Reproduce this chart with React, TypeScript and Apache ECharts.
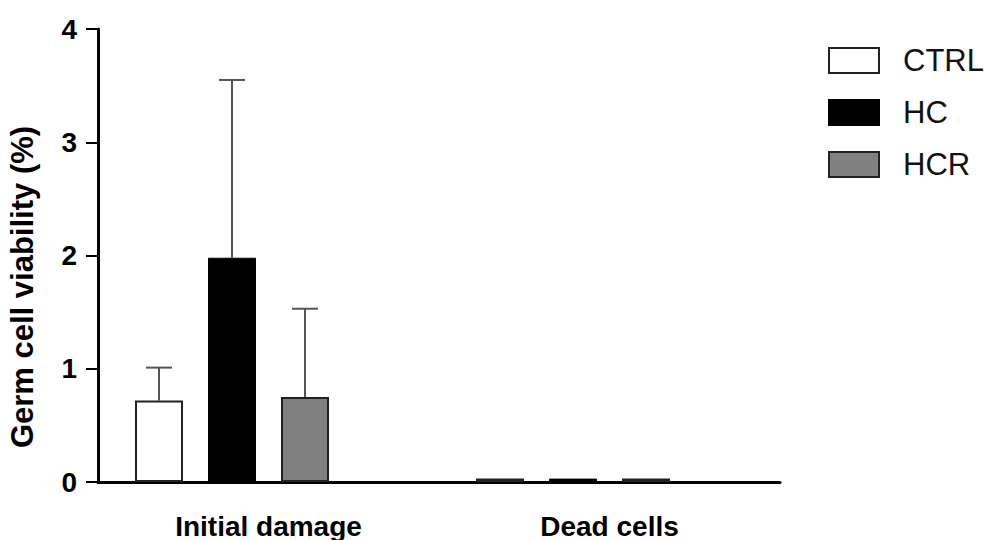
import React, { useEffect, useRef } from "react";
import * as echarts from "echarts";

const categories = ["Initial damage", "Dead cells"];
const seriesNames = ["CTRL", "HC", "HCR"];
const ctrlValues = [0.72, 0.03];
const hcValues = [1.98, 0.03];
const hcrValues = [0.75, 0.03];
const ctrlUpper = [1.01, null];
const hcUpper = [3.55, null];
const hcrUpper = [1.53, null];
const yTicks = [0, 1, 2, 3, 4];

const FONT = "'Liberation Sans', Arial, Helvetica, sans-serif";
const BAR_W = 48;
const BAR_GAP = 25;
const NSLOTS = 4;

export default function App() {
  const ref = useRef<HTMLDivElement>(null);
  useEffect(() => {
    document.body.style.margin = "0";
    const chart = echarts.init(ref.current!, null, { renderer: "svg" });
    const means = [ctrlValues, hcValues, hcrValues];
    const uppers = [ctrlUpper, hcUpper, hcrUpper];
    const errData: any[] = [];
    uppers.forEach((arr, s) => {
      arr.forEach((u, c) => {
        if (u != null) errData.push([c, means[s][c], u, s]);
      });
    });
    const barStyles = [
      { color: "#ffffff", borderColor: "#222", borderWidth: 2 },
      { color: "#000000", borderColor: "#000", borderWidth: 1 },
      { color: "#808080", borderColor: "#222", borderWidth: 2 },
    ];
    chart.setOption({
      animation: false,
      grid: { left: 98, right: 214, top: 29, bottom: 57, containLabel: false },
      legend: {
        data: seriesNames,
        orient: "vertical",
        left: 823,
        top: 40,
        itemWidth: 50,
        itemHeight: 25,
        itemGap: 21,
        icon: "rect",
        textStyle: {
          fontFamily: FONT,
          fontSize: 31,
          lineHeight: 25,
          color: "#111",
          padding: [0, 0, 0, 19],
        },
      },
      xAxis: {
        type: "category",
        data: categories,
        axisLine: { lineStyle: { color: "#000", width: 3 } },
        axisTick: { alignWithLabel: true, length: 8, lineStyle: { color: "#000", width: 2 } },
        axisLabel: {
          fontFamily: FONT,
          fontWeight: "bold",
          fontSize: 28,
          color: "#000",
          margin: 30,
        },
        splitLine: { show: false },
      },
      yAxis: {
        type: "value",
        min: yTicks[0],
        max: yTicks[yTicks.length - 1],
        interval: 1,
        axisLine: { show: true, lineStyle: { color: "#000", width: 3 } },
        axisTick: { show: true, length: 12, lineStyle: { color: "#000", width: 2 } },
        axisLabel: {
          fontFamily: FONT,
          fontWeight: "bold",
          fontSize: 28,
          color: "#000",
          margin: 21,
        },
        splitLine: { show: false },
      },
      graphic: [
        {
          type: "text",
          x: 22,
          y: 287,
          rotation: Math.PI / 2,
          style: {
            text: "Germ cell viability (%)",
            font: `bold 31px ${FONT}`,
            fill: "#000",
            textAlign: "center",
            textVerticalAlign: "middle",
          },
        },
      ],
      series: [
        ...seriesNames.map((name, i) => ({
          name,
          type: "bar",
          data: means[i],
          barWidth: BAR_W,
          barGap: `${(BAR_GAP / BAR_W) * 100}%`,
          itemStyle: barStyles[i],
          z: 3,
        })),
        {
          name: "placeholder",
          type: "bar",
          data: ["-", "-"],
          barWidth: BAR_W,
          barGap: `${(BAR_GAP / BAR_W) * 100}%`,
        },
        {
          name: "error",
          type: "custom",
          data: errData,
          z: 2,
          renderItem: (params: any, api: any) => {
            const c = api.value(0);
            const s = api.value(3);
            const base = api.coord([c, api.value(1)]);
            const top = api.coord([c, api.value(2)]);
            const off = (s - (NSLOTS - 1) / 2) * (BAR_W + BAR_GAP);
            const x = base[0] + off;
            const cap = 13;
            const style = { stroke: "#555", lineWidth: 2 };
            return {
              type: "group",
              children: [
                { type: "line", shape: { x1: x, y1: base[1], x2: x, y2: top[1] }, style },
                { type: "line", shape: { x1: x - cap, y1: top[1], x2: x + cap, y2: top[1] }, style },
              ],
            };
          },
        },
      ],
    });
    return () => chart.dispose();
  }, []);
  return <div ref={ref} style={{ width: 994, height: 540 }} />;
}
